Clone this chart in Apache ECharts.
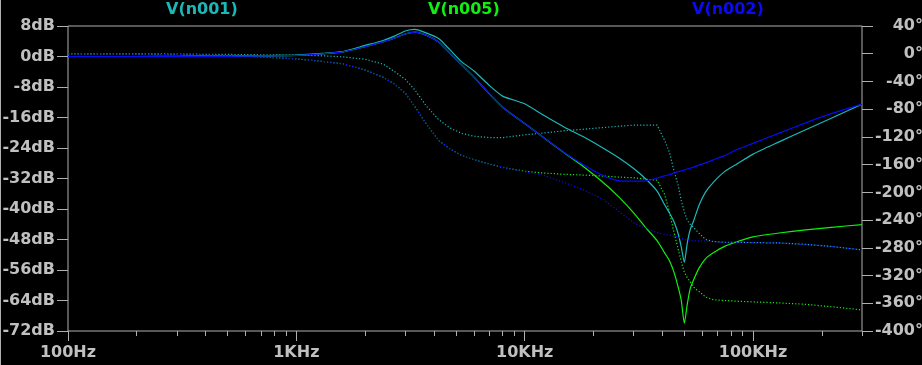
<!DOCTYPE html>
<html>
<head>
<meta charset="utf-8">
<script src="https://cdn.jsdelivr.net/npm/echarts@6/dist/echarts.min.js"></script>
<style>
html,body{margin:0;padding:0;background:#000;}
#chart{width:922px;height:365px;}
</style>
</head>
<body>
<div id="chart"></div>
<script>
// Frequencies (Hz)
const freq = [100,200,300,500,700,1000,1300,1600,2000,2400,2700,3000,3300,3700,4200,4700,5300,6000,7000,8000,
  10000,12000,15000,18000,22000,26000,30000,34000,38000,41000,43000,45000,47000,48500,50000,51500,53000,55000,58000,62000,67000,75000,85000,
  100000,130000,170000,220000,300000];

// Magnitudes (dB)
const n001Mag = [0,0,0.05,0.1,0.2,0.4,0.8,1.3,2.9,4.2,5.4,6.7,7.1,6.2,4.7,1.8,-1.4,-3.8,-7.6,-10.4,
  -12.4,-15.3,-18.6,-21.0,-24.0,-26.7,-29.4,-32.2,-35.3,-38.9,-41.0,-43.3,-46.5,-50,-54,-49,-45.5,-43,-39,-35.5,-33,-30.2,-28.2,
  -25.6,-22.4,-19.2,-16.2,-12.5];
const n005Mag = [0,0,0,0.05,0.15,0.3,0.7,1.2,2.6,3.9,4.9,5.9,6.4,5.6,3.8,0.9,-2.2,-5.4,-9.8,-13.3,
  -17.6,-21.1,-25.4,-28.8,-33.0,-37.0,-41.0,-45.0,-48.3,-51.5,-53.5,-56.5,-60.5,-64,-70,-65,-61,-58.5,-55.5,-53,-51.5,-49.8,-48.6,
  -47.3,-46.3,-45.5,-44.8,-44.1];
const n002Mag = [0,0,0,0.05,0.15,0.3,0.7,1.2,2.6,3.9,4.9,5.9,6.4,5.6,3.8,0.9,-2.2,-5.4,-9.8,-13.3,
  -17.6,-21.1,-25.3,-28.3,-31.2,-32.6,-32.7,-32.6,-31.9,-31.3,-31.0,-30.6,-30.2,-30.0,-29.8,-29.5,-29.3,-29.0,-28.5,-27.9,-27.1,-26.0,-24.4,
  -22.8,-20.1,-17.4,-15.0,-12.5];

// Phases (degrees)
const n001Phase = [0,0,-0.5,-1,-1.5,-2,-3,-4.5,-8,-15,-26,-37,-52,-75,-95,-107,-115,-119,-121,-121,
  -117,-114.5,-111,-109,-106.5,-104.5,-103,-103,-103,-125,-142,-168,-190,-212,-228,-240,-246,-251,-259,-268,-271,-272,-272,
  -272.5,-273,-275,-278,-283];
const n005Phase = [0,-0.5,-1,-2.5,-4.5,-7.5,-11,-14.5,-23.5,-34,-44,-57,-76,-101,-125,-137,-147,-153,-159,-164,
  -169.5,-172,-174,-175,-176.5,-178,-179,-181,-182.5,-203,-228,-257,-282,-300,-315,-323,-329,-337,-343,-351,-355,-356,-357,
  -358,-359.5,-361.5,-365,-369.5];
const n002Phase = [0,-0.5,-1,-2.5,-4.5,-7.5,-11,-14.5,-23.5,-34,-44,-57,-76,-101,-125,-137,-147,-153,-159,-163.5,
  -170.5,-175,-186,-196,-210,-228,-244,-252,-258,-260.5,-261.5,-263,-265,-266.5,-268,-269,-269.5,-270,-270,-270.5,-271,-272,-272,
  -272.5,-273,-275,-278,-283];

const traceNames = ['V(n001)','V(n005)','V(n002)'];
const majorTicks = [100,1000,10000,100000];
const minorTicks = [200,300,400,500,600,700,800,900,2000,3000,4000,5000,6000,7000,8000,9000,
  20000,30000,40000,50000,60000,70000,80000,90000,200000,300000];

const C_CYAN = '#1cb8b8', C_GREEN = '#10f010', C_BLUE = '#0a0af5';
const GRAY = '#c0c0c0', LINE = '#b0b0b0';
const FONT = 'DejaVu Sans';

function pairs(vals){ return freq.map((f,i)=>[f, vals[i]]); }
function fmtHz(v){
  if (v >= 1000) return (v/1000) + 'KHz';
  return v + 'Hz';
}

const chart = echarts.init(document.getElementById('chart'), null, {renderer:'canvas'});

const magLine = c => ({color:c, width:1.2, type:'solid'});
const phLine = c => ({color:c, width:1.2, type:[1.2,2]});

chart.setOption({
  backgroundColor:'#000',
  animation:false,
  title: [
    {text:traceNames[0], left:166, top:2, padding:0, textStyle:{color:C_CYAN, fontFamily:FONT, fontWeight:'bold', fontSize:16}},
    {text:traceNames[1], left:428, top:2, padding:0, textStyle:{color:C_GREEN, fontFamily:FONT, fontWeight:'bold', fontSize:16}},
    {text:traceNames[2], left:692, top:2, padding:0, textStyle:{color:C_BLUE, fontFamily:FONT, fontWeight:'bold', fontSize:16}}
  ],
  graphic:[{type:'line', shape:{x1:0.5,y1:0,x2:0.5,y2:365}, style:{stroke:LINE, lineWidth:1}}],
  grid:{left:68, right:60, top:26, bottom:34, show:true, borderColor:LINE, borderWidth:1, backgroundColor:'transparent',
        containLabel:false, outerBoundsMode:'none'},
  xAxis:[
    {type:'log', logBase:10, min:100, max:300000, position:'bottom',
     axisLine:{show:false, onZero:false}, splitLine:{show:false},
     axisTick:{show:true, length:10, inside:false, customValues:majorTicks, lineStyle:{color:LINE}},
     axisLabel:{show:true, customValues:majorTicks, formatter:fmtHz, color:GRAY, fontFamily:FONT, fontWeight:'bold', fontSize:16, margin:14}},
    {type:'log', logBase:10, min:100, max:300000, position:'bottom',
     axisLine:{show:false, onZero:false}, splitLine:{show:false},
     axisTick:{show:true, length:5, customValues:minorTicks, lineStyle:{color:LINE}},
     axisLabel:{show:false}}
  ],
  yAxis:[
    {type:'value', min:-72, max:8, interval:8, position:'left',
     axisLine:{show:false, onZero:false}, splitLine:{show:false},
     axisTick:{show:true, length:11, lineStyle:{color:LINE}},
     axisLabel:{formatter:'{value}dB', color:GRAY, fontFamily:FONT, fontWeight:'bold', fontSize:16, margin:13}},
    {type:'value', min:-400, max:40, interval:40, position:'right',
     axisLine:{show:false, onZero:false}, splitLine:{show:false},
     axisTick:{show:true, length:11, lineStyle:{color:LINE}},
     axisLabel:{formatter:'{value}°', color:GRAY, fontFamily:FONT, fontWeight:'bold', fontSize:16, margin:61, align:'right'}}
  ],
  series:[
    {name:'V(n001) mag', type:'line', xAxisIndex:0, yAxisIndex:0, data:pairs(n001Mag), showSymbol:false, smooth:0.2, lineStyle:magLine(C_CYAN)},
    {name:'V(n001) phase', type:'line', xAxisIndex:0, yAxisIndex:1, data:pairs(n001Phase), showSymbol:false, lineStyle:phLine(C_CYAN)},
    {name:'V(n005) mag', type:'line', xAxisIndex:0, yAxisIndex:0, data:pairs(n005Mag), showSymbol:false, smooth:0.2, lineStyle:magLine(C_GREEN)},
    {name:'V(n005) phase', type:'line', xAxisIndex:0, yAxisIndex:1, data:pairs(n005Phase), showSymbol:false, lineStyle:phLine(C_GREEN)},
    {name:'V(n002) mag', type:'line', xAxisIndex:0, yAxisIndex:0, data:pairs(n002Mag), showSymbol:false, smooth:0.2, lineStyle:magLine(C_BLUE)},
    {name:'V(n002) phase', type:'line', xAxisIndex:0, yAxisIndex:1, data:pairs(n002Phase), showSymbol:false, lineStyle:phLine(C_BLUE)}
  ]
});
</script>
</body>
</html>
